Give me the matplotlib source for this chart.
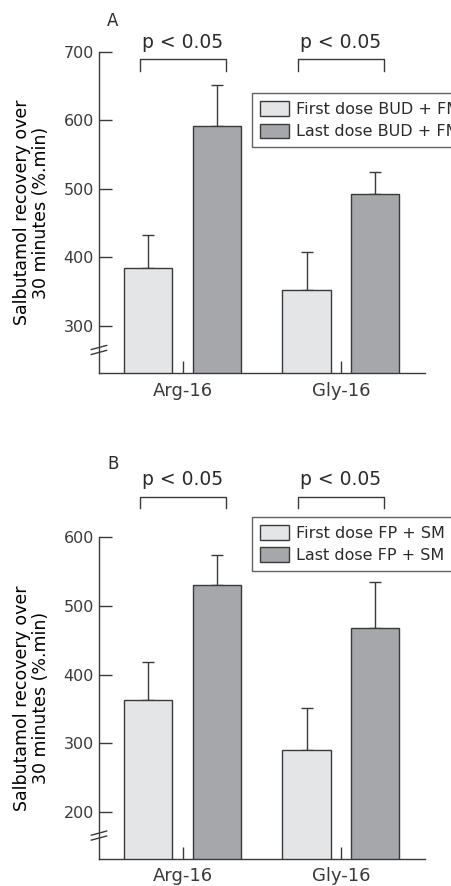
import numpy as np
import matplotlib.pyplot as plt

plt.rcParams['font.family'] = ['DejaVu Sans']
plt.rcParams['text.color'] = '#2b2b2b'

# data
groups = ['Arg-16', 'Gly-16']

a_first = [384, 352]
a_first_err = [49, 56]
a_last = [592, 492]
a_last_err = [60, 33]
a_labels = ['First dose BUD + FM', 'Last dose BUD + FM']

b_first = [363, 291]
b_first_err = [55, 61]
b_last = [531, 468]
b_last_err = [43, 67]
b_labels = ['First dose FP + SM', 'Last dose FP + SM']

p_text = 'p < 0.05'

light = '#e4e5e7'
dark = '#a6a7aa'
edge = '#3a3a3a'


def panel(ax, first, first_err, last, last_err, labels, ylim, yticks,
          letter, leg_anchor, fig, brk_top, txt_y, letter_y):
    x = np.arange(len(groups))
    w = 0.305
    off = 0.217
    ax.bar(x - off, first, w, color=light, edgecolor=edge, linewidth=1.0,
           label=labels[0], zorder=2)
    ax.bar(x + off, last, w, color=dark, edgecolor=edge, linewidth=1.0,
           label=labels[1], zorder=2)
    ax.errorbar(x - off, first, yerr=[np.zeros(len(x)), first_err], fmt='none',
                ecolor=edge, elinewidth=1.0, capsize=4, capthick=1.0, zorder=1)
    ax.errorbar(x + off, last, yerr=[np.zeros(len(x)), last_err], fmt='none',
                ecolor=edge, elinewidth=1.0, capsize=4, capthick=1.0, zorder=1)

    ax.set_xlim(-0.526, 1.531)
    ax.set_ylim(*ylim)
    ax.set_yticks(yticks)
    ax.set_xticks(x)
    ax.set_xticklabels(groups, fontsize=13)
    ax.tick_params(axis='y', direction='in', length=9, width=1.0,
                   labelsize=11.5, pad=4, colors=edge)
    ax.tick_params(axis='x', direction='in', length=8.6, width=1.0,
                   pad=6, colors=edge)
    for s in ['top', 'right']:
        ax.spines[s].set_visible(False)
    for s in ['left', 'bottom']:
        ax.spines[s].set_color(edge)
        ax.spines[s].set_linewidth(1.0)

    ax.set_ylabel('Salbutamol recovery over\n30 minutes (%.min)',
                  fontsize=12.5, labelpad=10, linespacing=1.05)

    # significance brackets
    for xc in x:
        ax.plot([xc - 0.272, xc - 0.272, xc + 0.272, xc + 0.272],
                [brk_top - 17, brk_top, brk_top, brk_top - 17],
                color=edge, lw=1.0, clip_on=False)
        ax.text(xc, txt_y, p_text, ha='center', va='baseline', fontsize=13.5)
    ax.text(-0.44, letter_y, letter, ha='center', va='center', fontsize=12)

    # axis break marks
    yb = ylim[0] + 34
    tr = ax.get_yaxis_transform()
    for d in (-3.6, 3.6):
        ax.plot([-0.025, 0.022], [yb + d - 3, yb + d + 3], color=edge,
                lw=1.0, transform=tr, clip_on=False)

    leg = ax.legend(loc='upper left', bbox_to_anchor=leg_anchor,
                    bbox_transform=fig.transFigure, borderaxespad=0,
                    fontsize=11.5, frameon=True, fancybox=False,
                    handlelength=1.8, handleheight=1.06, handletextpad=0.45,
                    labelspacing=0.4, borderpad=0.5)
    leg.get_frame().set_edgecolor(edge)
    leg.get_frame().set_linewidth(1.0)


fig = plt.figure(figsize=(4.52, 8.86), dpi=100)
ax1 = fig.add_axes([0.220, 0.5787, 0.720, 0.3630])
ax2 = fig.add_axes([0.220, 0.0305, 0.720, 0.3631])

panel(ax1, a_first, a_first_err, a_last, a_last_err, a_labels,
      (231, 700), [300, 400, 500, 600, 700], 'A', (0.558, 0.8947), fig,
      689, 705, 745)
panel(ax2, b_first, b_first_err, b_last, b_last_err, b_labels,
      (132, 600), [200, 300, 400, 500, 600], 'B', (0.558, 0.4168), fig,
      659, 676, 706)

fig.savefig('out.png', dpi=100)
